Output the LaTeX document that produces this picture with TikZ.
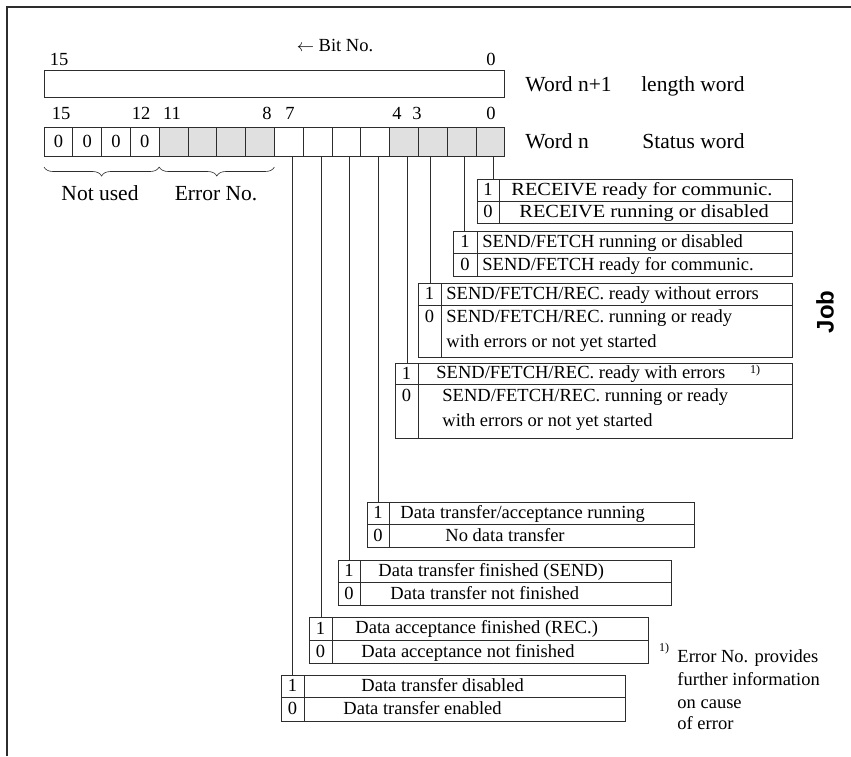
\documentclass[tikz,border=0pt]{standalone}
\usepackage{fontspec}
\setmainfont{Liberation Serif}
\setsansfont{Liberation Sans}
\usetikzlibrary{decorations.pathreplacing}
\definecolor{cellgray}{RGB}{224,224,224}
\definecolor{ink}{RGB}{45,45,45}

\begin{document}
\begin{tikzpicture}[x=1pt, y=-1pt, line width=0.9pt,
  font=\fontsize{18.5}{22}\selectfont,
  txt/.style={anchor=west, inner sep=0pt, text height=11pt, text depth=0pt},
  num/.style={inner sep=0pt, text height=11pt, text depth=0pt},
  big/.style={font=\fontsize{21.5}{24}\selectfont, text height=13pt},
  cell/.style={draw=ink, minimum width=28.8pt, minimum height=29pt, inner sep=0pt, outer sep=0pt, anchor=north west},
  brc/.style={draw=ink, line width=0.6pt, decorate, decoration={brace, mirror, amplitude=9pt}}]
  \useasboundingbox (0,0) rectangle (851,756);
  % page frame
  \draw[ink, line width=1.2pt] (7,756) -- (7,7) -- (851,7);

  % Word n+1 -- length word
  \node[num] (top15) at (59,60) {15};
  \node[num] (bitno) at (335,46) {$\leftarrow$ Bit No.};
  \node[num] (top0) at (491,60) {0};
  \node[cell, minimum width=460.8pt, minimum height=27pt] (wordhi) at (44,70) {};
  \node[txt, big] (wordn1) at (525,85) {Word n+1};
  \node[txt, big, anchor=east] (lenword) at (745,85) {length word};

  % Word n -- status word, one cell per bit
  \foreach \b/\x in {15/61, 12/141, 11/172, 8/267, 7/290, 4/397, 3/417, 0/491}
    \node[num] (n\b) at (\x,114) {\b};
  \foreach \b in {15,14,13,12}
    \node[cell] (c\b) at ({44+28.8*(15-\b)},127) {0};
  \foreach \b in {11,10,9,8,3,2,1,0}
    \node[cell, fill=cellgray] (c\b) at ({44+28.8*(15-\b)},127) {};
  \foreach \b in {7,6,5,4}
    \node[cell] (c\b) at ({44+28.8*(15-\b)},127) {};
  \node[txt, big] (wordn) at (525,142) {Word n};
  \node[txt, big, anchor=east] (statword) at (745,142) {Status word};

  % braces under the high byte
  \draw[brc] ([yshift=-11pt]c15.south west) -- ([yshift=-11pt]c12.south east);
  \draw[brc] ([yshift=-11pt]c11.south west) -- ([yshift=-11pt]c8.south east);
  \node[num, big] (notused) at (100,194) {Not used};
  \node[num, big] (errno) at (216,194) {Error No.};

  % two-row boxes: bit/left/divider/right/top/middle/bottom/line x/y of the 0
  \foreach \b/\lf/\dv/\rt/\tp/\md/\lo/\lx/\zy in {
    0/477/499/792/179/201/223/493/212,
    1/453/477/792/231/253/276/464/265,
    2/418/441/792/283/305/357/430/317,
    3/395/418/792/363/384/438/407/396,
    4/367/389/694/502/524/547/378/536,
    5/338/360/671/560/582/605/349/594,
    6/309/332/648/617/640/663/321/652,
    7/281/304/625/675/697/721/292/709}
  {
    \draw[ink] (\lf,\tp) rectangle (\rt,\lo) (\lf,\md) -- (\rt,\md) (\dv,\tp) -- (\dv,\lo);
    \coordinate (box\b) at (\lx,\tp);
    \node[num] (one\b) at ({(\lf+\dv)/2},{(\tp+\md)/2}) {1};
    \node[num] (zero\b) at ({(\lf+\dv)/2},\zy) {0};
  }
  \foreach \b in {0,...,7}
    \draw[ink] (c\b.south -| box\b) -- (box\b);

  % Job
  \node[txt] (recv1) at (511,190) {\scalebox{1.1}[1]{RECEIVE ready for communic.}};
  \node[txt] (recv0) at (519,212) {\scalebox{1.1}[1]{RECEIVE running or disabled}};
  \node[txt] (send1) at (482,242) {SEND/FETCH running or disabled};
  \node[txt] (send0) at (482,265) {SEND/FETCH ready for communic.};
  \node[txt] (ok1) at (446,294) {SEND/FETCH/REC. ready without errors};
  \node[txt] (ok0) at (446,317) {SEND/FETCH/REC. running or ready};
  \node[txt] (ok0b) at (446,342) {with errors or not yet started};
  \node[txt] (err1) at (436,373) {SEND/FETCH/REC. ready with errors};
  \node[num, font=\fontsize{12}{14}\selectfont] (errmark) at (755,368) {1)};
  \node[txt] (err0) at (442,396) {SEND/FETCH/REC. running or ready};
  \node[txt] (err0b) at (442,421) {with errors or not yet started};
  \node[rotate=90, inner sep=0pt, font=\sffamily\bfseries\fontsize{24}{26}\selectfont] (job) at (825,312) {Job};

  % data transfer
  \node[txt] (run1) at (400,513) {Data transfer/acceptance running};
  \node[txt] (run0) at (445,536) {No data transfer};
  \node[txt] (snd1) at (378,571) {Data transfer finished (SEND)};
  \node[txt] (snd0) at (390,594) {Data transfer not finished};
  \node[txt] (rec1) at (355,628) {Data acceptance finished (REC.)};
  \node[txt] (rec0) at (361,652) {Data acceptance not finished};
  \node[txt] (dis1) at (361,686) {Data transfer disabled};
  \node[txt] (dis0) at (343,709) {Data transfer enabled};

  % footnote
  \node[num, font=\fontsize{12}{14}\selectfont] (fnmark) at (664,646) {1)};
  \foreach \y/\s [count=\i] in {657/Error No. provides, 680/further information, 703/on cause, 724/of error}
    \node[txt] (fn\i) at (677,\y) {\s};
\end{tikzpicture}
\end{document}
